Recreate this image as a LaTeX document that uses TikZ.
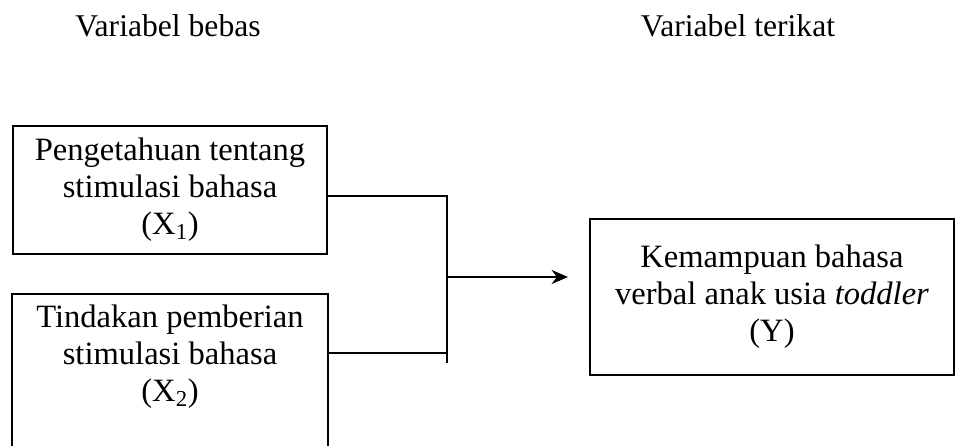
\documentclass[tikz,border=0pt]{standalone}
\usepackage{fontspec}
\setmainfont{Liberation Serif}
\usetikzlibrary{positioning, arrows.meta}

\tikzset{
  varbox/.style={draw, line width=1.6pt, align=center,
    minimum width=314*0.03cm, minimum height=128*0.03cm, inner sep=0pt,
    font=\fontsize{27.8}{31.5}\selectfont},
  heading/.style={font=\fontsize{27}{32}\selectfont},
  link/.style={line width=1.6pt}
}

\begin{document}
\begin{tikzpicture}[x=0.03cm, y=-0.03cm]
        \useasboundingbox (0,0) rectangle (969,446);
        \clip (0,0) rectangle (969,446);

        % Judul kolom
        \node[heading] (bebas) at (168,26) {Variabel bebas};
        \node[heading] (terikat) at (738,26) {Variabel terikat};

        % Variabel bebas
        \node[varbox] (x1) at (170,190) {Pengetahuan tentang\\stimulasi bahasa\\(X\textsubscript{1})};
        \node[varbox, draw=none] (x2) at (170,357) {Tindakan pemberian\\stimulasi bahasa\\(X\textsubscript{2})};
        \draw[link] ([yshift=-3cm]x2.south west) |- ([yshift=-2pt]x2.north east) -- ([yshift=-3cm]x2.south east);

        % Variabel terikat
        \node[varbox, minimum width=364*0.03cm, minimum height=156*0.03cm] (y) at (772,297)
          {Kemampuan bahasa\\verbal anak usia \textit{toddler}\\(Y)};

        % Garis penghubung
        \coordinate (bus1) at (447,196);
        \coordinate (bus2) at (447,353);
        \coordinate (busend) at (447,363);
        \coordinate (busmid) at (447,277);
        \coordinate (tip) at (568,277);
        \draw[link] (x1.east |- bus1) -- (bus1) -- (busend);
        \draw[link] (x2.east |- bus2) -- (bus2);
        \draw[link, -{Stealth[length=14pt, width=12pt]}] (busmid) -- (tip);

    \end{tikzpicture}
\end{document}
